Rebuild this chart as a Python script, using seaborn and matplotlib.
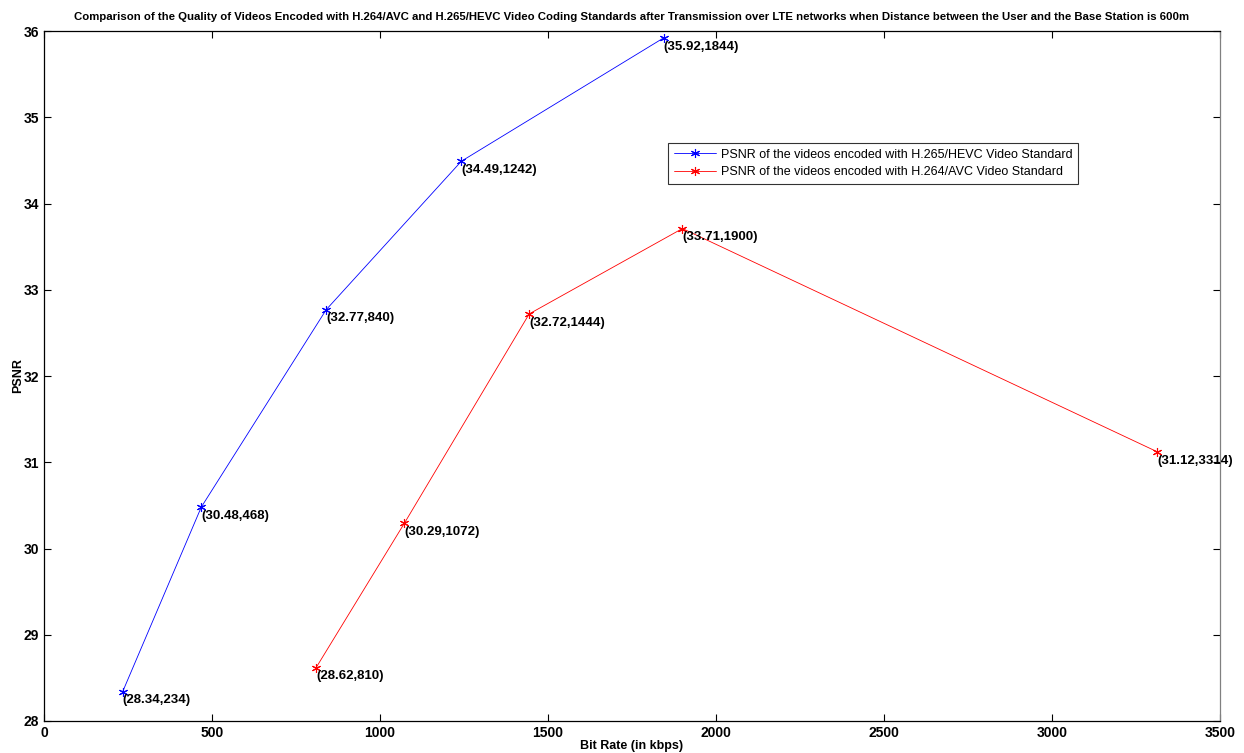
import matplotlib
matplotlib.use("Agg")
import matplotlib.pyplot as plt
import seaborn as sns
import pandas as pd

hevc_rate = [234, 468, 840, 1242, 1844]
hevc_psnr = [28.34, 30.48, 32.77, 34.49, 35.92]
avc_rate = [810, 1072, 1444, 1900, 3314]
avc_psnr = [28.62, 30.29, 32.72, 33.71, 31.12]
hevc_label = "PSNR of the videos encoded with H.265/HEVC Video Standard"
avc_label = "PSNR of the videos encoded with H.264/AVC Video Standard"
x_ticks = [0, 500, 1000, 1500, 2000, 2500, 3000, 3500]
y_ticks = [28, 29, 30, 31, 32, 33, 34, 35, 36]
title = ("Comparison of the Quality of Videos Encoded with H.264/AVC and H.265/HEVC Video Coding "
         "Standards after Transmission over LTE networks when Distance between the User and the Base Station is 600m")

df = pd.concat([
    pd.DataFrame({"rate": hevc_rate, "psnr": hevc_psnr, "series": hevc_label}),
    pd.DataFrame({"rate": avc_rate, "psnr": avc_psnr, "series": avc_label}),
])

sns.set_style("ticks")
plt.rcParams["font.family"] = ["Liberation Sans", "DejaVu Sans"]
plt.rcParams["text.color"] = "black"
plt.rcParams["axes.labelcolor"] = "black"
plt.rcParams["xtick.color"] = "black"
plt.rcParams["ytick.color"] = "black"

fig = plt.figure(figsize=(12.44, 7.53), dpi=100)
ax = fig.add_axes([0.0354, 0.0425, 0.9453, 0.9163])

sns.lineplot(data=df, x="rate", y="psnr", hue="series", sort=False,
             palette={hevc_label: "#0000ff", avc_label: "#ff0000"},
             marker=(6, 2, 0), markersize=6.5, markeredgewidth=0.8,
             linewidth=0.6, ax=ax)
for ln in ax.lines:
    ln.set_markeredgecolor(ln.get_color())

for xs, ys in ((hevc_rate, hevc_psnr), (avc_rate, avc_psnr)):
    for x, y in zip(xs, ys):
        ax.annotate(f"({y:.2f},{x})", (x, y), xytext=(0, -2), textcoords="offset points",
                    ha="left", va="top", fontsize=9.5, fontweight="bold", color="black")

ax.set_xlim(0, 3500)
ax.set_ylim(28, 36)
ax.set_xticks(x_ticks)
ax.set_yticks(y_ticks)
ax.tick_params(direction="in", top=True, right=True, length=5, width=0.8,
               labelsize=10, colors="black")
for lbl in ax.get_xticklabels() + ax.get_yticklabels():
    lbl.set_fontweight("bold")
for sp in ax.spines.values():
    sp.set_visible(True)
    sp.set_linewidth(0.9)
    sp.set_color("black")
ax.spines["right"].set_color("#808080")

ax.set_xlabel("Bit Rate (in kbps)", fontsize=9, fontweight="bold", labelpad=0, color="black")
ax.set_ylabel("PSNR", fontsize=9, fontweight="bold", labelpad=0, color="black")
ax.set_title(title, fontsize=8.2, fontweight="bold", pad=8, color="black")

leg = ax.legend(loc="upper left", bbox_to_anchor=(0.5306, 0.8377), frameon=True,
                fancybox=False, edgecolor="black", fontsize=9, borderaxespad=0,
                borderpad=0.45, labelspacing=0.45, handlelength=3.4, handletextpad=0.4)
leg.get_frame().set_linewidth(0.8)
for h in leg.legend_handles:
    h.set_markeredgecolor(h.get_color())
for t in leg.get_texts():
    t.set_color("black")

fig.savefig("out.png", dpi=100)
